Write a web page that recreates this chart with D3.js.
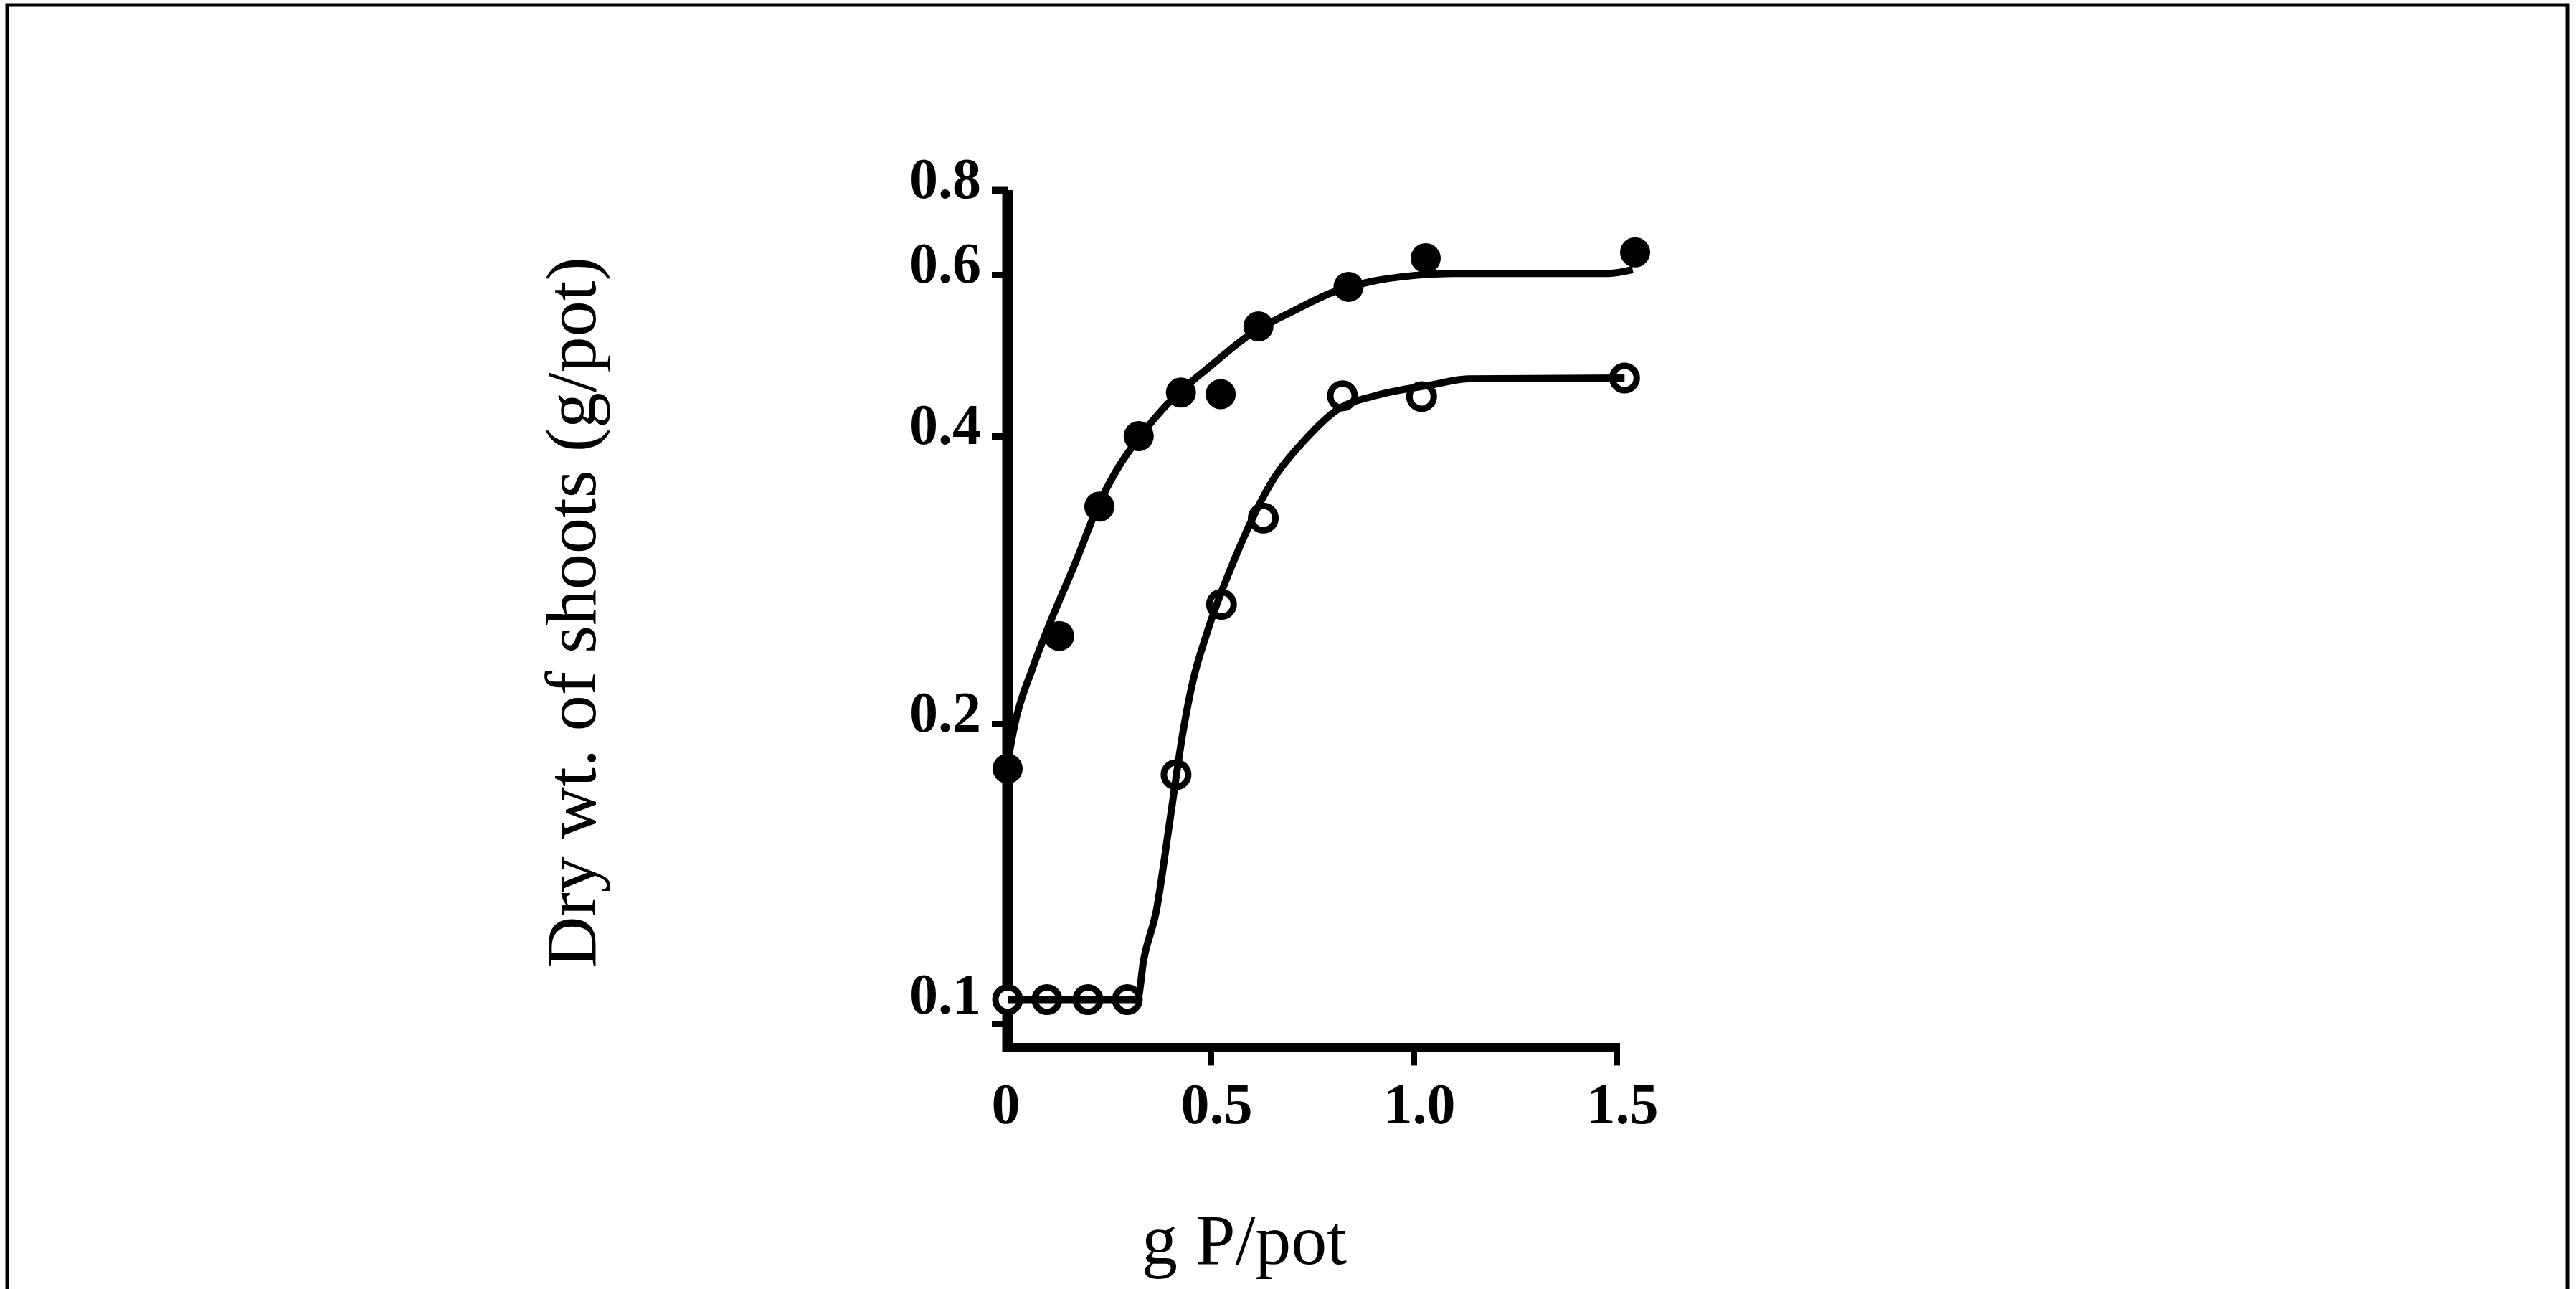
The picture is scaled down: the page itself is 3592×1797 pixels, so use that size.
<!DOCTYPE html>
<html>
<head>
<meta charset="utf-8">
<script src="https://cdn.jsdelivr.net/npm/d3@7"></script>
<style>
body { margin: 0; background: #fff; }
svg { display: block; }
</style>
</head>
<body>
<svg id="chart" width="3592" height="1797"></svg>
<script>
// tick values
var xTicks = [0, 0.5, 1.0, 1.5];
var yTicks = [0.1, 0.2, 0.4, 0.6, 0.8];

// filled circles (measured points)
var filledX = [0, 0.127, 0.226, 0.323, 0.427, 0.525, 0.618, 0.84, 1.03, 1.546];
var filledY = [0.185, 0.261, 0.351, 0.400, 0.454, 0.452, 0.536, 0.585, 0.639, 0.653];

// open circles (measured points)
var openX = [0, 0.097, 0.198, 0.295, 0.415, 0.527, 0.63, 0.825, 1.02, 1.52];
var openY = [0.108, 0.108, 0.108, 0.108, 0.183, 0.283, 0.343, 0.450, 0.449, 0.472];

// fitted curves
var filledFitX = [0, 0.018, 0.062, 0.1, 0.17, 0.219, 0.27, 0.327, 0.4, 0.5, 0.6, 0.7, 0.8, 0.9, 1.0, 1.1, 1.48, 1.54];
var filledFitY = [0.187, 0.2, 0.239, 0.267, 0.314, 0.349, 0.377, 0.4, 0.443, 0.487, 0.527, 0.554, 0.578, 0.592, 0.599, 0.603, 0.603, 0.612];
var openFitX = [0, 0.32, 0.335, 0.367, 0.398, 0.433, 0.456, 0.491, 0.557, 0.657, 0.728, 0.816, 0.905, 1.051, 1.134, 1.52];
var openFitY = [0.108, 0.108, 0.121, 0.138, 0.166, 0.198, 0.229, 0.263, 0.313, 0.371, 0.396, 0.434, 0.45, 0.464, 0.471, 0.472];

var yBase = 0.092; // where the x axis sits on the y scale

var svg = d3.select("#chart"),
    serif = "'Liberation Serif', 'Times New Roman', 'DejaVu Serif', serif";

// x is linear, the y axis of the original is unevenly spaced -> piecewise scale
var x = d3.scaleLinear().domain([0, 1.5]).range([1405, 2254]);
var y = d3.scaleLinear().domain(yTicks).range([1427, 1009, 608, 383, 265]);

function zip(xs, ys) {
    return xs.map(function(v, i) { return {x: v, y: ys[i]}; });
}

// frame round the figure
svg.append("rect")
    .attr("x", 10).attr("y", 7)
    .attr("width", 3570).attr("height", 1900)
    .attr("fill", "none")
    .attr("stroke", "#000")
    .attr("stroke-width", 5);

// y axis
var yAxis = svg.append("g")
    .attr("transform", "translate(" + x(0) + ",0)")
    .call(d3.axisLeft(y).tickValues(yTicks).tickSize(22).tickFormat(d3.format(".1f")));
yAxis.select(".domain").remove();
yAxis.selectAll(".tick line")
    .attr("stroke", "#000")
    .attr("stroke-width", 9);
yAxis.selectAll(".tick text")
    .attr("x", -37)
    .attr("dy", null)
    .attr("y", function(d) { return d === 0.1 ? -15 : 10; })
    .style("font-family", serif)
    .style("font-size", "80px")
    .style("font-weight", "bold")
    .attr("fill", "#000");

// x axis
var xAxis = svg.append("g")
    .attr("transform", "translate(0," + y(yBase) + ")")
    .call(d3.axisBottom(x).tickValues(xTicks).tickSize(25).tickFormat(function(d) { return d === 0 ? "0" : d3.format(".1f")(d); }));
xAxis.select(".domain").remove();
xAxis.selectAll(".tick line")
    .attr("stroke", "#000")
    .attr("stroke-width", 9)
    .attr("opacity", function(d) { return d === 0 ? 0 : 1; });
xAxis.selectAll(".tick text")
    .attr("x", function(d) { return d === 0 ? -3 : 8; })
    .attr("y", 106)
    .attr("dy", null)
    .style("font-family", serif)
    .style("font-size", "80px")
    .style("font-weight", "bold")
    .attr("fill", "#000");

// heavy axis lines
svg.append("line")
    .attr("x1", x(0)).attr("x2", x(0))
    .attr("y1", y(0.8)).attr("y2", y(yBase) + 6)
    .attr("stroke", "#000").attr("stroke-width", 15);
svg.append("line")
    .attr("x1", x(0) - 7).attr("x2", x(1.5) + 5)
    .attr("y1", y(yBase)).attr("y2", y(yBase))
    .attr("stroke", "#000").attr("stroke-width", 13);
// top corner of the y axis
svg.append("line")
    .attr("x1", x(0) - 22).attr("x2", x(0))
    .attr("y1", y(0.8)).attr("y2", y(0.8))
    .attr("stroke", "#000").attr("stroke-width", 9);

// markers
svg.append("g").selectAll("circle")
    .data(zip(openX, openY))
    .enter().append("circle")
    .attr("cx", function(d) { return x(d.x); })
    .attr("cy", function(d) { return y(d.y); })
    .attr("r", 17)
    .attr("fill", "#fff")
    .attr("stroke", "#000")
    .attr("stroke-width", 9);

svg.append("g").selectAll("circle")
    .data(zip(filledX, filledY))
    .enter().append("circle")
    .attr("cx", function(d) { return x(d.x); })
    .attr("cy", function(d) { return y(d.y); })
    .attr("r", 21)
    .attr("fill", "#000");

// fitted lines
var line = d3.line()
    .x(function(d) { return x(d.x); })
    .y(function(d) { return y(d.y); })
    .curve(d3.curveMonotoneX);

svg.append("path")
    .datum(zip(filledFitX, filledFitY))
    .attr("d", line)
    .attr("fill", "none")
    .attr("stroke", "#000")
    .attr("stroke-width", 10);

svg.append("path")
    .datum(zip(openFitX, openFitY))
    .attr("d", line)
    .attr("fill", "none")
    .attr("stroke", "#000")
    .attr("stroke-width", 10);

// axis titles
svg.append("text")
    .attr("transform", "translate(830,854) rotate(-90)")
    .attr("text-anchor", "middle")
    .style("font-family", serif)
    .style("font-size", "100px")
    .text("Dry wt. of shoots (g/pot)");

svg.append("text")
    .attr("x", 1735)
    .attr("y", 1762)
    .attr("text-anchor", "middle")
    .style("font-family", serif)
    .style("font-size", "100px")
    .text("g P/pot");
</script>
</body>
</html>
